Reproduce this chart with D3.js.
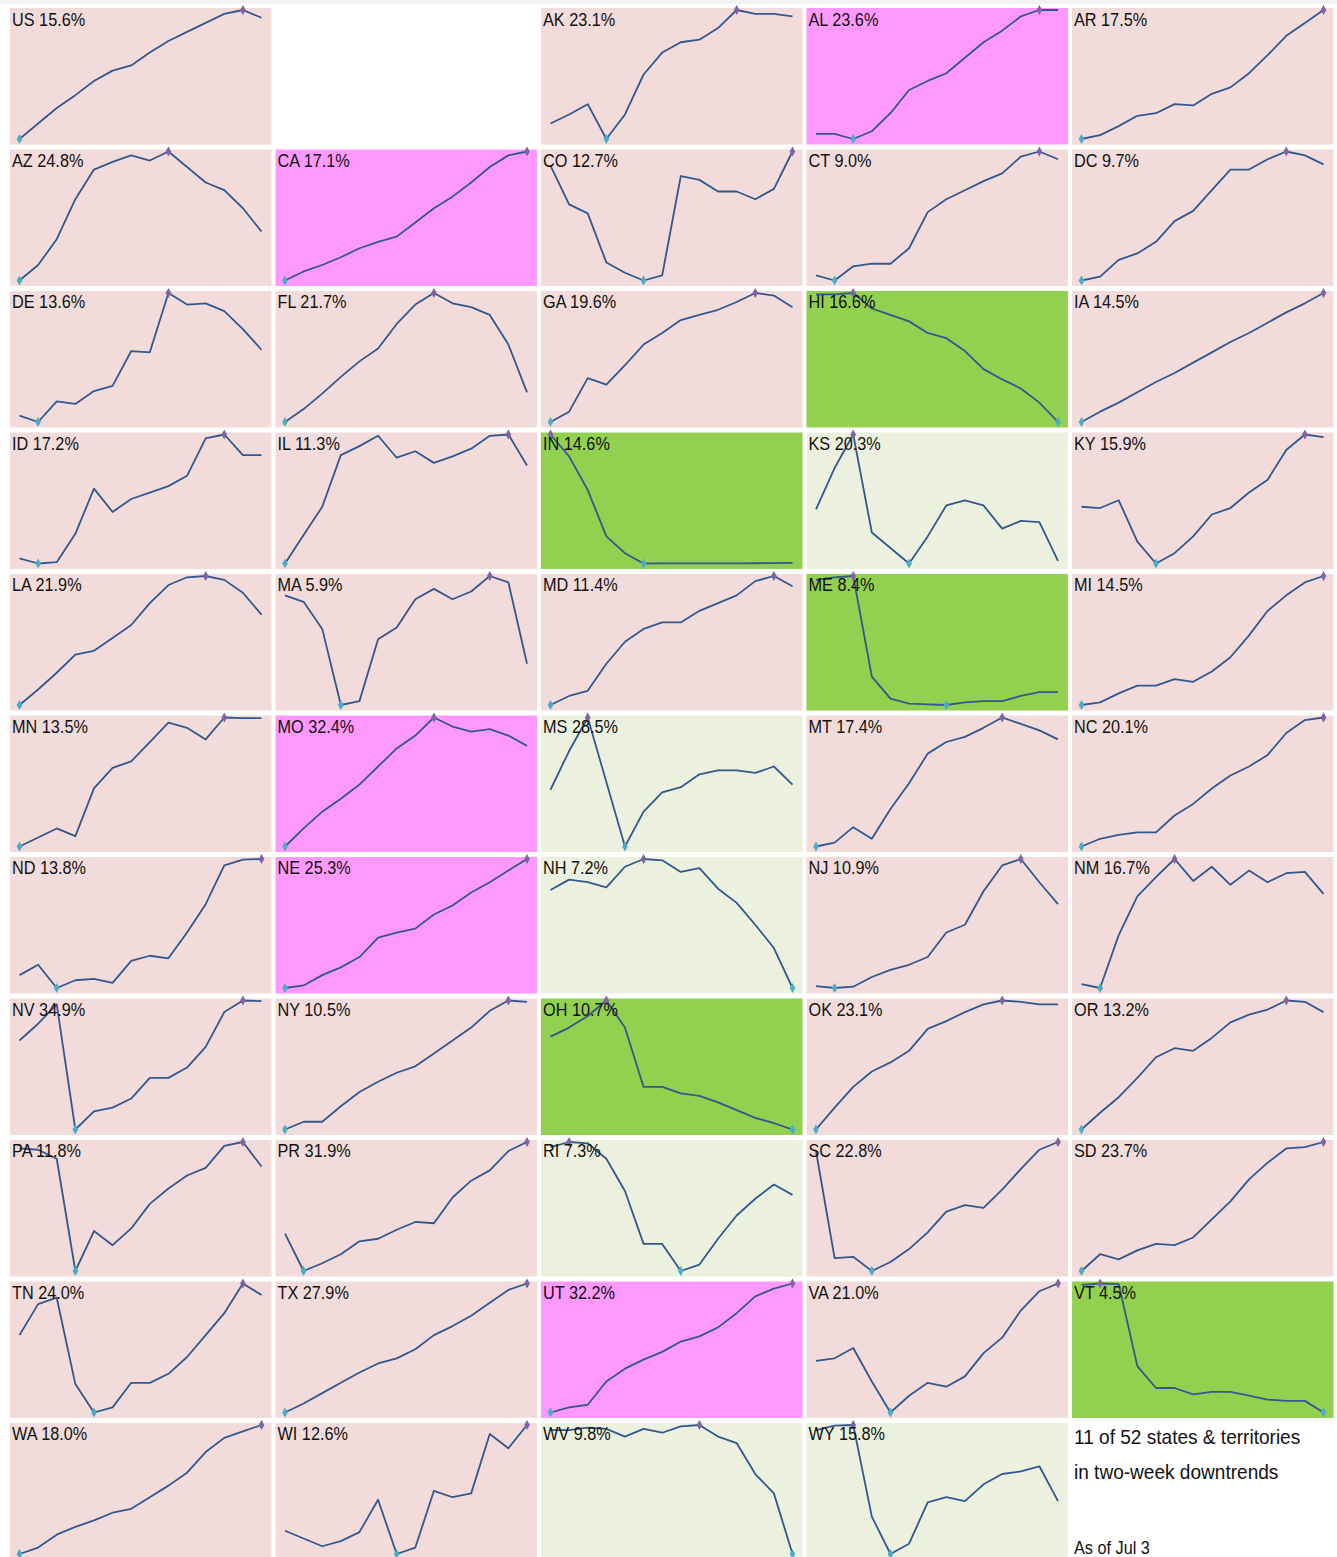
<!DOCTYPE html>
<html>
<head>
<meta charset="utf-8">
<script src="https://cdn.jsdelivr.net/npm/d3@7"></script>
<style>
  body { margin: 0; background: #fff; }
  svg text { font-family: "Liberation Sans", Arial, sans-serif; fill: #111; }
</style>
</head>
<body>
<div id="grid"></div>
<script>
// grid order, row by row (null = empty slot)
var codes = ["US", null, "AK", "AL", "AR",
             "AZ", "CA", "CO", "CT", "DC",
             "DE", "FL", "GA", "HI", "IA",
             "ID", "IL", "IN", "KS", "KY",
             "LA", "MA", "MD", "ME", "MI",
             "MN", "MO", "MS", "MT", "NC",
             "ND", "NE", "NH", "NJ", "NM",
             "NV", "NY", "OH", "OK", "OR",
             "PA", "PR", "RI", "SC", "SD",
             "TN", "TX", "UT", "VA", "VT",
             "WA", "WI", "WV", "WY"];

var pcts = {US: "15.6%", AK: "23.1%", AL: "23.6%", AR: "17.5%", AZ: "24.8%", CA: "17.1%",
  CO: "12.7%", CT: "9.0%", DC: "9.7%", DE: "13.6%", FL: "21.7%", GA: "19.6%", HI: "16.6%",
  IA: "14.5%", ID: "17.2%", IL: "11.3%", IN: "14.6%", KS: "20.3%", KY: "15.9%", LA: "21.9%",
  MA: "5.9%", MD: "11.4%", ME: "8.4%", MI: "14.5%", MN: "13.5%", MO: "32.4%", MS: "28.5%",
  MT: "17.4%", NC: "20.1%", ND: "13.8%", NE: "25.3%", NH: "7.2%", NJ: "10.9%", NM: "16.7%",
  NV: "34.9%", NY: "10.5%", OH: "10.7%", OK: "23.1%", OR: "13.2%", PA: "11.8%", PR: "31.9%",
  RI: "7.3%", SC: "22.8%", SD: "23.7%", TN: "24.0%", TX: "27.9%", UT: "32.2%", VA: "21.0%",
  VT: "4.5%", WA: "18.0%", WI: "12.6%", WV: "9.8%", WY: "15.8%"};

// trend class: rising steadily, strong rise, downtrend, softer downtrend
var strongUp = ["AL", "CA", "MO", "NE", "UT"];
var downtrend = ["HI", "IN", "ME", "OH", "VT"];
var softDown = ["KS", "MS", "NH", "RI", "WV", "WY"];

// 14 daily values per place (relative level, 0 = low, 100 = high)
var series = {
  US: [0, 12, 24, 34, 45, 53, 57, 67, 76, 83, 90, 97, 100, 94],
  AK: [12, 19, 27, 0, 19, 50, 67, 75, 77, 86, 100, 97, 97, 95],
  AL: [4, 4, 0, 6, 20, 38, 45, 51, 63, 75, 84, 95, 100, 100],
  AR: [0, 3, 10, 18, 20, 27, 26, 35, 40, 51, 65, 80, 90, 100],
  AZ: [0, 12, 32, 63, 86, 92, 97, 93, 100, 88, 76, 70, 56, 38],
  CA: [0, 7, 12, 18, 25, 30, 34, 45, 56, 65, 76, 88, 97, 100],
  CO: [89, 59, 52, 14, 6, 0, 4, 81, 78, 69, 69, 63, 71, 100],
  CT: [4, 0, 11, 13, 13, 25, 53, 63, 70, 77, 83, 96, 100, 94],
  DC: [0, 3, 16, 21, 30, 46, 54, 70, 86, 86, 94, 100, 97, 90],
  DE: [5, 0, 16, 14, 24, 28, 55, 54, 100, 91, 92, 86, 72, 56],
  FL: [0, 10, 22, 35, 47, 57, 76, 91, 100, 92, 89, 83, 60, 23],
  GA: [0, 8, 34, 29, 44, 60, 69, 79, 83, 87, 93, 100, 98, 89],
  HI: [99, 99, 100, 88, 83, 78, 69, 65, 55, 41, 33, 26, 15, 0],
  IA: [0, 8, 15, 23, 31, 38, 46, 54, 62, 69, 77, 85, 92, 100],
  ID: [4, 0, 1, 23, 58, 40, 50, 55, 60, 68, 97, 100, 84, 84],
  IL: [0, 22, 44, 84, 91, 99, 82, 87, 78, 83, 89, 99, 100, 76],
  IN: [100, 83, 57, 21, 8, 0, 0.1, 0.1, 0.1, 0.1, 0.1, 0.2, 0.3, 0.5],
  KS: [42, 74, 100, 24, 12, 0, 21, 45, 49, 45, 27, 33, 32, 2],
  KY: [44, 43, 49, 17, 0, 8, 21, 38, 43, 55, 65, 88, 100, 98],
  LA: [0, 12, 25, 39, 42, 52, 62, 79, 93, 99, 100, 97, 87, 70],
  MA: [85, 80, 59, 0, 3, 51, 60, 82, 90, 82, 88, 100, 95, 32],
  MD: [0, 7, 11, 32, 49, 59, 64, 64, 73, 79, 85, 96, 100, 92],
  ME: [97, 99, 100, 22, 5, 1, 0.5, 0, 2, 3, 3, 7, 10, 10],
  MI: [0, 2, 9, 15, 15, 20, 18, 26, 37, 54, 73, 85, 95, 100],
  MN: [0, 7, 14, 8, 45, 61, 66, 81, 96, 92, 83, 100, 99.5, 99.5],
  MO: [0, 14, 27, 37, 48, 62, 76, 86, 100, 93, 89, 91, 86, 78],
  MS: [44, 74, 100, 50, 0, 27, 42, 46, 56, 59, 59, 57, 62, 48],
  MT: [0, 3, 15, 6, 29, 49, 72, 81, 85, 92, 100, 95, 90, 83],
  NC: [0, 6, 9, 11, 11, 24, 33, 45, 55, 62, 71, 88, 98, 100],
  ND: [10, 18, 0, 6, 7, 4, 21, 25, 23, 43, 65, 95, 99.5, 100],
  NE: [0, 2, 10, 16, 24, 39, 43, 46, 57, 64, 74, 82, 91, 100],
  NH: [76, 84, 82, 78, 94, 100, 99, 90, 93, 77, 66, 49, 31, 0],
  NJ: [1.5, 0, 1, 8.5, 14, 18, 24, 43, 49, 75, 95, 100, 82, 65],
  NM: [3, 0, 41, 71, 86, 100, 83, 94, 80, 91, 82, 89, 90, 73],
  NV: [69, 82, 97, 0, 14, 17, 24, 40, 40, 48, 64, 91, 100, 99.5],
  NY: [0, 6, 6, 18, 29, 37, 44, 49, 59, 69, 79, 92, 100, 99],
  OH: [72, 79, 88, 100, 79, 33, 33, 28, 26, 21, 15, 9, 5, 0],
  OK: [0, 17, 33, 45, 52, 61, 78, 84, 91, 97, 100, 99, 97, 97],
  OR: [0, 13, 25, 40, 56, 63, 61, 71, 83, 89, 93, 100, 99, 91],
  PA: [95, 94, 87, 0, 31, 20, 33, 52, 64, 74, 80, 97, 100, 81],
  PR: [29, 0, 6, 13, 23, 25, 32, 38, 37, 57, 70, 78, 93, 100],
  RI: [96, 100, 99, 87, 62, 21, 21, 0, 5, 25, 43, 56, 67, 59],
  SC: [93, 10, 11, 0, 7, 17, 30, 46, 51, 49, 63, 79, 94, 100],
  SD: [0, 13, 9, 16, 21, 20, 26, 40, 54, 71, 84, 95, 96, 100],
  TN: [60, 84, 89, 22, 0, 4, 23, 23, 30, 43, 60, 77, 100, 91],
  TX: [0, 7, 15, 23, 31, 38, 42, 49, 60, 67, 75, 85, 95, 100],
  UT: [0, 4, 6, 24, 34, 41, 47, 55, 59, 66, 77, 90, 96, 100],
  VA: [40, 42, 50, 24, 0, 13, 23, 20, 28, 46, 58, 79, 94, 100],
  VT: [99, 100, 99.5, 36, 19, 19, 14, 16, 16, 13, 10, 9, 9, 0],
  WA: [0, 5, 15, 21, 26, 32, 35, 44, 53, 63, 79, 90, 95, 100],
  WI: [18, 12, 6, 10, 17, 42, 0, 5, 49, 44, 47, 93, 82, 100],
  WV: [96, 96, 98, 97, 91, 97, 94, 99, 100, 91, 86, 62, 47, 0],
  WY: [96, 99.5, 100, 29, 0, 8, 40, 44, 41, 54, 62, 64, 68, 41]
};

var noteLines = ["11 of 52 states & territories", "in two-week downtrends"];
var asOf = "As of Jul 3";

var W = 1337, H = 1557, ncol = 5, nrow = 11;
var bg = {up: "#f2dcdb", strong: "#ff99ff", down: "#92d050", soft: "#ebf1de"};

function trendOf(c) {
  if (strongUp.indexOf(c) >= 0) return "strong";
  if (downtrend.indexOf(c) >= 0) return "down";
  if (softDown.indexOf(c) >= 0) return "soft";
  return "up";
}

var svg = d3.select("#grid").append("svg")
    .attr("width", W)
    .attr("height", H);

svg.append("rect")
    .attr("x", 0).attr("y", 0)
    .attr("width", W).attr("height", 4)
    .attr("fill", "#f2f2f2");

var col = d3.scaleBand().domain(d3.range(ncol)).range([10, 1333.5]).paddingInner(0.015);
var row = d3.scaleBand().domain(d3.range(nrow)).range([8, 1559.5]).paddingInner(0.0353);

var cw = col.bandwidth(), ch = row.bandwidth();
var x = d3.scaleLinear().domain([0, 13]).range([9.5, cw - 10]);

var line = d3.line()
    .x(function(d, i) { return x(i); })
    .y(function(d) { return d.y; });

var cells = svg.selectAll(".cell")
    .data(codes.map(function(c, i) { return {code: c, i: i}; }).filter(function(d) { return d.code; }))
  .enter().append("g")
    .attr("class", "cell")
    .attr("transform", function(d) {
      return "translate(" + col(d.i % ncol) + "," + row(Math.floor(d.i / ncol)) + ")";
    });

cells.append("rect")
    .attr("width", cw)
    .attr("height", ch)
    .attr("fill", function(d) { return bg[trendOf(d.code)]; });

cells.each(function(d) {
  var g = d3.select(this);
  var vals = series[d.code];
  var y = d3.scaleLinear().domain(d3.extent(vals)).range([131, 2]);
  var pts = vals.map(function(v) { return {y: y(v)}; });

  g.append("path")
      .attr("d", line(pts))
      .attr("fill", "none")
      .attr("stroke", "#34578c")
      .attr("stroke-width", 1.8)
      .attr("stroke-linejoin", "round");

  var hi = d3.maxIndex(vals), lo = d3.minIndex(vals);
  [[lo, "#4bacc6"], [hi, "#8064a2"]].forEach(function(m) {
    g.append("path")
        .attr("d", d3.symbol(d3.symbolDiamond, 28)())
        .attr("transform", "translate(" + x(m[0]) + "," + y(vals[m[0]]) + ")")
        .attr("fill", m[1]);
  });

  g.append("text")
      .attr("transform", "translate(2,17.5) scale(0.93,1)")
      .style("font-size", "17.5px")
      .text(d.code + " " + pcts[d.code]);
});

// note in the last slot
var nx = col(4) + 2, ny = row(10);
noteLines.forEach(function(t, i) {
  svg.append("text")
      .attr("transform", "translate(" + nx + "," + (ny + 21 + i * 35) + ") scale(0.93,1)")
      .style("font-size", "20.5px")
      .text(t);
});
svg.append("text")
    .attr("transform", "translate(" + nx + "," + (ny + 131) + ") scale(0.93,1)")
    .style("font-size", "17.5px")
    .text(asOf);
</script>
</body>
</html>
